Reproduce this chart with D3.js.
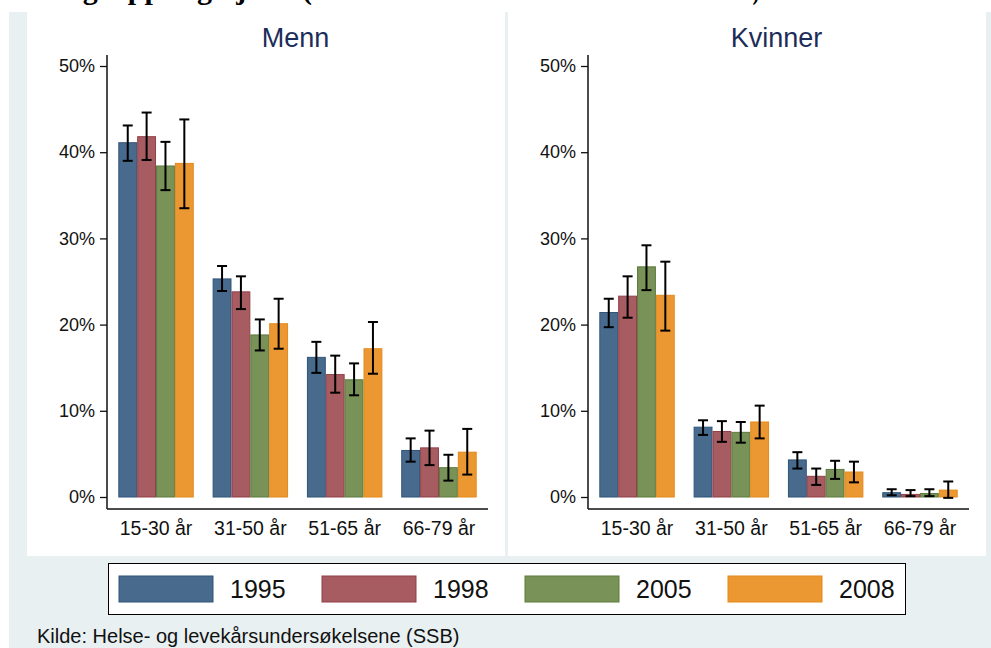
<!DOCTYPE html>
<html>
<head>
<meta charset="utf-8">
<script src="https://cdn.jsdelivr.net/npm/d3@7"></script>
<style>
  body { margin: 0; background: #fff; }
  svg { display: block; font-family: "Liberation Sans", Arial, sans-serif; }
</style>
</head>
<body>
<div id="chart"></div>
<script>
// data (percent)
var years = ["1995", "1998", "2005", "2008"];
var groups = ["15-30 år", "31-50 år", "51-65 år", "66-79 år"];
var yTicks = [0, 10, 20, 30, 40, 50];

// Menn, per group: one value per year
var mennVal = [[41.1, 41.8, 38.4, 38.7], [25.3, 23.8, 18.8, 20.1], [16.2, 14.2, 13.6, 17.2], [5.4, 5.7, 3.4, 5.2]];
var mennLo  = [[39.0, 39.1, 35.6, 33.5], [23.9, 21.8, 17.0, 17.2], [14.4, 12.1, 11.8, 14.3], [4.1, 3.7, 1.9, 2.6]];
var mennHi  = [[43.1, 44.6, 41.2, 43.8], [26.8, 25.6, 20.6, 23.0], [18.0, 16.4, 15.5, 20.3], [6.8, 7.7, 4.9, 7.9]];

// Kvinner
var kvinVal = [[21.4, 23.3, 26.7, 23.4], [8.1, 7.6, 7.5, 8.7], [4.3, 2.4, 3.2, 2.9], [0.5, 0.3, 0.4, 0.8]];
var kvinLo  = [[19.7, 20.8, 24.0, 19.3], [7.2, 6.4, 6.3, 6.8], [3.3, 1.4, 2.1, 1.7], [0.2, 0.1, 0.1, -0.1]];
var kvinHi  = [[23.0, 25.6, 29.2, 27.3], [8.9, 8.8, 8.7, 10.6], [5.2, 3.3, 4.2, 4.1], [0.9, 0.8, 0.9, 1.8]];

var fills   = ["#486b8d", "#a65c61", "#789257", "#eb9833"];
var strokes = ["#2f5479", "#913f48", "#5c7a3d", "#e3891a"];

var W = 991, H = 648;
var svg = d3.select("#chart").append("svg")
    .attr("width", W)
    .attr("height", H);

// outer graph region
svg.append("rect")
    .attr("x", 9).attr("y", 12)
    .attr("width", W - 9).attr("height", H - 12)
    .attr("fill", "#e9f0f2");

// cut-off heading at the very top (only its descenders show)
var head = svg.append("g")
    .style("font-family", "'Liberation Serif', 'DejaVu Serif', serif")
    .style("font-weight", "bold")
    .style("font-size", "30px");
head.append("text")
    .attr("x", 312).attr("y", -1)
    .attr("text-anchor", "end")
    .text("Dagligrøykere etter aldersgruppe og kjønn (");
head.append("text")
    .attr("x", 312).attr("y", -1)
    .attr("textLength", 448)
    .attr("lengthAdjust", "spacingAndGlyphs")
    .text("Andel av alle i hver aldersklasse i 1995 til 2008)");

function drawPanel(x0, title, vals, lo, hi) {
    var panel = svg.append("g");

    panel.append("rect")
        .attr("x", x0).attr("y", 12)
        .attr("width", 478).attr("height", 544)
        .attr("fill", "#fff");

    var left = x0 + 80, right = x0 + 461;

    var x = d3.scaleBand()
        .domain(groups)
        .range([left, right])
        .paddingInner(0.2)
        .paddingOuter(0.12);

    var xs = d3.scaleBand()
        .domain(years)
        .range([0, x.bandwidth()]);

    var y = d3.scaleLinear()
        .domain([0, 50])
        .range([497, 66]);

    panel.append("text")
        .attr("x", (left + right) / 2 - 2)
        .attr("y", 47)
        .attr("text-anchor", "middle")
        .style("font-size", "27px")
        .style("fill", "#1c2d5a")
        .text(title);

    // y axis
    var yAxis = d3.axisLeft(y)
        .tickValues(yTicks)
        .tickSize(7)
        .tickPadding(5)
        .tickFormat(function(d) { return d + "%"; });
    var gy = panel.append("g")
        .attr("transform", "translate(" + left + ",0)")
        .call(yAxis);
    gy.select(".domain").remove();
    gy.selectAll("text").style("font-size", "18px").style("fill", "#111");
    gy.selectAll("line").attr("stroke", "#111").attr("stroke-width", 1.3);

    panel.append("line")
        .attr("x1", left).attr("x2", left)
        .attr("y1", 55).attr("y2", 509)
        .attr("stroke", "#111").attr("stroke-width", 1.5);

    // x axis
    var gx = panel.append("g")
        .attr("transform", "translate(0,509)")
        .call(d3.axisBottom(x).tickSize(0).tickPadding(12));
    gx.select(".domain").remove();
    gx.selectAll("text").style("font-size", "19.5px").style("fill", "#111");

    panel.append("line")
        .attr("x1", left).attr("x2", right)
        .attr("y1", 509).attr("y2", 509)
        .attr("stroke", "#111").attr("stroke-width", 1.5);

    // bars
    var rows = [];
    groups.forEach(function(g, i) {
        years.forEach(function(yr, j) {
            rows.push({ g: g, yr: yr, j: j, v: vals[i][j], lo: lo[i][j], hi: hi[i][j] });
        });
    });

    panel.selectAll(".bar")
        .data(rows)
        .join("rect")
        .attr("class", "bar")
        .attr("x", function(d) { return x(d.g) + xs(d.yr) + 0.5; })
        .attr("y", function(d) { return y(d.v); })
        .attr("width", xs.bandwidth() - 1)
        .attr("height", function(d) { return y(0) - y(d.v); })
        .attr("fill", function(d) { return fills[d.j]; })
        .attr("stroke", function(d) { return strokes[d.j]; })
        .attr("stroke-width", 1);

    // error bars
    var cap = 5;
    var eb = panel.selectAll(".err")
        .data(rows)
        .join("g")
        .attr("class", "err")
        .attr("stroke", "#000")
        .attr("stroke-width", 2)
        .attr("transform", function(d) { return "translate(" + (x(d.g) + xs(d.yr) + xs.bandwidth() / 2) + ",0)"; });
    eb.append("line")
        .attr("y1", function(d) { return y(d.lo); })
        .attr("y2", function(d) { return y(d.hi); });
    eb.append("line")
        .attr("x1", -cap).attr("x2", cap)
        .attr("y1", function(d) { return y(d.hi); })
        .attr("y2", function(d) { return y(d.hi); });
    eb.append("line")
        .attr("x1", -cap).attr("x2", cap)
        .attr("y1", function(d) { return y(d.lo); })
        .attr("y2", function(d) { return y(d.lo); });
}

drawPanel(27, "Menn", mennVal, mennLo, mennHi);
drawPanel(508, "Kvinner", kvinVal, kvinLo, kvinHi);

// legend
var legend = svg.append("g");
legend.append("rect")
    .attr("x", 108.5).attr("y", 563.5)
    .attr("width", 797).attr("height", 51)
    .attr("fill", "#fff")
    .attr("stroke", "#000").attr("stroke-width", 1);

var lx = d3.scalePoint().domain(years).range([119, 728]);
var item = legend.selectAll(".item")
    .data(years)
    .join("g")
    .attr("class", "item")
    .attr("transform", function(d) { return "translate(" + lx(d) + ",576)"; });
item.append("rect")
    .attr("width", 94).attr("height", 26)
    .attr("fill", function(d, i) { return fills[i]; })
    .attr("stroke", function(d, i) { return strokes[i]; });
item.append("text")
    .attr("x", 111).attr("y", 22)
    .style("font-size", "25px")
    .style("fill", "#111")
    .text(function(d) { return d; });

svg.append("text")
    .attr("x", 37).attr("y", 643)
    .style("font-size", "20px")
    .style("fill", "#111")
    .text("Kilde: Helse- og levekårsundersøkelsene (SSB)");
</script>
</body>
</html>
